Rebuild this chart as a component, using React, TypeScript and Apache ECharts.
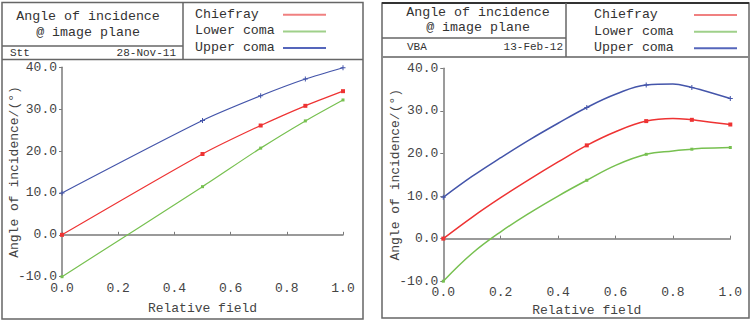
import React, { useEffect, useRef } from "react";
import * as echarts from "echarts";

// field points carrying a marker
const fieldPoints = [0, 0.5, 0.707, 0.866, 1.0];

const leftChiefray = [0, 19.3, 26.1, 30.8, 34.3];
const leftLowerComa = [-10, 11.5, 20.7, 27.2, 32.2];
const leftUpperComa = [10, 27.3, 33.2, 37.2, 39.9];

// right panel: the curve is traced through more field samples
const rightField = [0, 0.1, 0.2, 0.3, 0.4, 0.5, 0.6, 0.707, 0.8, 0.866, 0.9, 1.0];
const rightChiefray = [0, 5.0, 9.6, 13.9, 18.0, 21.9, 25.1, 27.6, 28.2, 27.9, 27.6, 26.8];
const rightLowerComa = [-10, -3.5, 1.6, 6.0, 10.0, 13.7, 17.2, 19.8, 20.6, 21.0, 21.2, 21.4];
const rightUpperComa = [9.7, 14.6, 19.0, 23.2, 27.1, 30.8, 33.9, 36.1, 36.3, 35.5, 34.9, 32.9];

const seriesNames = ["Chiefray", "Lower coma", "Upper coma"];
const titleLines = ["Angle of incidence", "@ image plane"];
const leftInfo = ["Stt", "28-Nov-11"];
const rightInfo = ["VBA", "13-Feb-12"];
const xAxisName = "Relative field";
const yAxisName = "Angle of incidence/(°)";

const MONO = "Liberation Mono";
const RED = "#ee3333";
const GREEN = "#77c050";
const BLUE = "#4455aa";
const LEG_RED = "#f08080";
const LEG_GREEN = "#9fd08a";
const LEG_BLUE = "#5566bb";
const CROSS = "path://M2,0H3V2H5V3H3V5H2V3H0V2H2Z";

function pairs(xs: number[], ys: number[]) {
  return xs.map((x, i) =>
    fieldPoints.indexOf(x) >= 0
      ? { value: [x, ys[i]] }
      : { value: [x, ys[i]], symbol: "none" }
  );
}

export default function App() {
  const ref = useRef<HTMLDivElement>(null);
  useEffect(() => {
    document.body.style.margin = "0";
    if (!ref.current) return;
    const chart = echarts.init(ref.current, undefined, { renderer: "svg" });

    const axisLabel = { fontFamily: MONO, fontSize: 13, color: "#444" };
    const mkX = (gridIndex: number, gap: number) => ({
      type: "value",
      gridIndex,
      min: 0,
      max: 1,
      interval: 0.2,
      name: xAxisName,
      nameLocation: "middle",
      nameGap: gap,
      nameMoveOverlap: false,
      nameTextStyle: { fontFamily: MONO, fontSize: 13, color: "#444" },
      axisLine: { show: true, lineStyle: { color: "#7a7a7a", width: 1.5 } },
      axisTick: { show: true, inside: true, length: 3, lineStyle: { color: "#7a7a7a" } },
      axisLabel: { ...axisLabel, margin: 5, formatter: (v: number) => v.toFixed(1) },
      splitLine: { show: false },
    });
    const mkY = (gridIndex: number, gap: number) => ({
      type: "value",
      gridIndex,
      min: -10,
      max: 40,
      interval: 10,
      name: yAxisName,
      nameLocation: "middle",
      nameGap: gap,
      nameMoveOverlap: false,
      nameTextStyle: { fontFamily: MONO, fontSize: 13, color: "#444" },
      axisLine: { show: true, lineStyle: { color: "#7a7a7a", width: 1.5 } },
      axisTick: { show: true, inside: false, length: 3, lineStyle: { color: "#7a7a7a" } },
      axisLabel: { ...axisLabel, margin: 5, formatter: (v: number) => v.toFixed(1) },
      splitLine: { show: false },
    });

    const mkSeries = (
      name: string,
      xs: number[],
      data: number[],
      color: string,
      idx: number,
      symbol: string,
      size: number,
      smooth: number | boolean,
      width: number
    ) => ({
      type: "line",
      name,
      xAxisIndex: idx,
      yAxisIndex: idx,
      data: pairs(xs, data),
      smooth,
      symbol,
      symbolSize: size,
      showSymbol: true,
      itemStyle: { color },
      lineStyle: { color, width },
      z: 3,
    });

    const txt = (x: number, y: number, text: string, size: number, align = "left") => ({
      type: "text",
      x,
      y,
      style: {
        text,
        fontFamily: MONO,
        fontSize: size,
        fill: "#333",
        align,
        verticalAlign: "middle",
      },
    });
    const ln = (x1: number, y1: number, x2: number, y2: number, stroke = "#666", lw = 1.5) => ({
      type: "line",
      shape: { x1, y1, x2, y2 },
      style: { stroke, lineWidth: lw },
    });

    const legendBlock = (tx: number, lx1: number, lx2: number, ys: number[]) => {
      const cols = [LEG_RED, LEG_GREEN, LEG_BLUE];
      const out: any[] = [];
      seriesNames.forEach((n, i) => {
        out.push(txt(tx, ys[i], n, 13.3));
        out.push(ln(lx1, ys[i] + 0.7, lx2, ys[i] + 0.7, cols[i], 2));
      });
      return out;
    };

    const graphic: any[] = [
      // left panel frame
      { type: "rect", shape: { x: 2, y: 2.5, width: 361, height: 316.5 }, style: { fill: "none", stroke: "#666", lineWidth: 1.5 } },
      ln(2, 59.5, 363, 59.5),
      ln(183, 2.5, 183, 59.5),
      ln(2, 46, 183, 46),
      txt(88, 16, titleLines[0], 13.3, "center"),
      txt(88, 32.3, titleLines[1], 13.3, "center"),
      txt(10, 53, leftInfo[0], 11),
      txt(176, 53, leftInfo[1], 11, "right"),
      ...legendBlock(195, 283, 326, [14, 30.7, 47.3]),
      // right panel frame
      { type: "rect", shape: { x: 382, y: 3, width: 367, height: 315 }, style: { fill: "none", stroke: "#666", lineWidth: 1.5 } },
      ln(382, 3, 749, 3, "#333", 2),
      ln(382, 57, 749, 57, "#888", 2),
      ln(566, 3, 566, 57),
      ln(382, 38, 566, 38),
      txt(478, 12.3, titleLines[0], 13.3, "center"),
      txt(478, 27.3, titleLines[1], 13.3, "center"),
      txt(407, 47, rightInfo[0], 11),
      txt(563, 47, rightInfo[1], 11, "right"),
      ...legendBlock(594, 694, 737, [14.3, 31, 47.6]),
    ];

    chart.setOption({
      animation: false,
      backgroundColor: "#fff",
      grid: [
        { left: 62, top: 67.3, width: 281, height: 209.4 },
        { left: 443.3, top: 68.3, width: 287, height: 214.4 },
      ],
      xAxis: [mkX(0, 24.8), mkX(1, 22.8)],
      yAxis: [mkY(0, 41.5), mkY(1, 41)],
      series: [
        mkSeries(seriesNames[0], fieldPoints, leftChiefray, RED, 0, "rect", 4, 0.25, 1.2),
        mkSeries(seriesNames[1], fieldPoints, leftLowerComa, GREEN, 0, "rect", 3, 0.25, 1.2),
        mkSeries(seriesNames[2], fieldPoints, leftUpperComa, BLUE, 0, CROSS, 5, 0.25, 1.2),
        mkSeries(seriesNames[0], rightField, rightChiefray, RED, 1, "rect", 4, 0.4, 1.5),
        mkSeries(seriesNames[1], rightField, rightLowerComa, GREEN, 1, "rect", 3, 0.4, 1.5),
        mkSeries(seriesNames[2], rightField, rightUpperComa, BLUE, 1, CROSS, 5, 0.4, 1.5),
      ],
      graphic,
    });
    return () => chart.dispose();
  }, []);
  return <div ref={ref} style={{ width: 751, height: 322 }} />;
}
